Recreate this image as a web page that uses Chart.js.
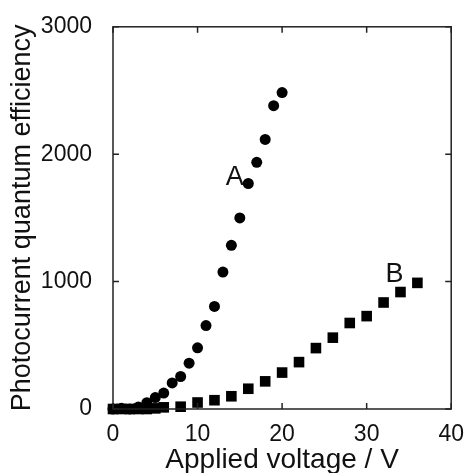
<!DOCTYPE html>
<html>
<head>
<meta charset="utf-8">
<script src="https://cdn.jsdelivr.net/npm/chart.js@4"></script>
<style>
html, body { margin: 0; padding: 0; background: #fff; }
</style>
</head>
<body>
<canvas id="myChart" width="468" height="473"></canvas>
<script>
var voltageA = [0, 1, 2, 3, 4, 5, 6, 7, 8, 9, 10, 11, 12, 13, 14, 15, 16, 17, 18, 19, 20];
var efficiencyA = [0, 5, 0, 15, 50, 90, 125, 205, 255, 360, 480, 655, 805, 1075, 1285, 1500, 1770, 1936, 2116, 2381, 2484];
var voltageB = [0, 1, 2, 3, 4, 5, 6, 8, 10, 12, 14, 16, 18, 20, 22, 24, 26, 28, 30, 32, 34, 36];
var efficiencyB = [0, 0, 0, 0, 0, 5, 13, 18, 51, 69, 100, 159, 217, 286, 368, 478, 560, 675, 729, 836, 918, 990];
var xTicks = [0, 10, 20, 30, 40];
var yTicks = [0, 1000, 2000, 3000];
var seriesNames = ['A', 'B'];

function toPoints(xs, ys) {
    return xs.map(function(x, i) { return { x: x, y: ys[i] }; });
}

var font = '"Liberation Sans", Arial, Helvetica, sans-serif';

// frame with inward ticks on all four sides, plus the A / B curve labels
var framePlugin = {
    id: 'frame',
    afterDatasetsDraw: function(chart) {
        var c = chart.ctx, a = chart.chartArea;
        var xs = chart.scales.x, ys = chart.scales.y;
        c.save();
        c.strokeStyle = '#222';
        c.lineWidth = 1.5;
        c.strokeRect(a.left, a.top, a.right - a.left, a.bottom - a.top);
        c.beginPath();
        xTicks.forEach(function(v) {
            var px = xs.getPixelForValue(v);
            c.moveTo(px, a.bottom); c.lineTo(px, a.bottom - 6);
            c.moveTo(px, a.top); c.lineTo(px, a.top + 6);
        });
        yTicks.forEach(function(v) {
            var py = ys.getPixelForValue(v);
            c.moveTo(a.left, py); c.lineTo(a.left + 6, py);
            c.moveTo(a.right, py); c.lineTo(a.right - 6, py);
        });
        c.stroke();

        c.fillStyle = '#111';
        c.font = '27px ' + font;
        c.textAlign = 'center';
        c.textBaseline = 'middle';
        c.fillText(seriesNames[0], xs.getPixelForValue(14.4), ys.getPixelForValue(1820));
        c.fillText(seriesNames[1], xs.getPixelForValue(33.3), ys.getPixelForValue(1055));
        c.restore();
    }
};

var ctx = document.getElementById('myChart').getContext('2d');
var myChart = new Chart(ctx, {
    type: 'scatter',
    data: {
        datasets: [{
            label: seriesNames[0],
            data: toPoints(voltageA, efficiencyA),
            pointStyle: 'circle',
            pointRadius: 5.5,
            backgroundColor: '#000',
            borderColor: '#000',
            borderWidth: 0,
            clip: false
        }, {
            label: seriesNames[1],
            data: toPoints(voltageB, efficiencyB),
            pointStyle: 'rect',
            pointRadius: 7.5,
            backgroundColor: '#000',
            borderColor: '#000',
            borderWidth: 0,
            clip: false
        }]
    },
    options: {
        responsive: false,
        animation: false,
        layout: { padding: { top: 18, right: 15, left: 0, bottom: 0 } },
        plugins: {
            legend: { display: false },
            tooltip: { enabled: false }
        },
        scales: {
            x: {
                type: 'linear',
                min: 0,
                max: 40,
                grid: { display: false },
                border: { display: false },
                afterBuildTicks: function(axis) {
                    axis.ticks = xTicks.map(function(v) { return { value: v }; });
                },
                afterFit: function(axis) { axis.height = 64; },
                ticks: {
                    color: '#111',
                    padding: 4,
                    maxRotation: 0,
                    font: { family: font, size: 23 },
                    callback: function(value) { return String(value); }
                },
                title: {
                    display: true,
                    text: 'Applied voltage / V',
                    color: '#111',
                    padding: { top: 0, bottom: -3 },
                    font: { family: font, size: 28, lineHeight: 1.1 }
                }
            },
            y: {
                type: 'linear',
                min: 0,
                max: 3000,
                grid: { display: false },
                border: { display: false },
                afterBuildTicks: function(axis) {
                    axis.ticks = yTicks.map(function(v) { return { value: v }; });
                },
                afterFit: function(axis) { axis.width = 113; },
                ticks: {
                    color: '#111',
                    padding: 13,
                    font: { family: font, size: 23 },
                    callback: function(value) { return String(value); }
                },
                title: {
                    display: true,
                    text: 'Photocurrent quantum efficiency',
                    color: '#111',
                    padding: { top: 8, bottom: 0 },
                    font: { family: font, size: 27, lineHeight: 1.1 }
                }
            }
        }
    },
    plugins: [framePlugin]
});
</script>
</body>
</html>
